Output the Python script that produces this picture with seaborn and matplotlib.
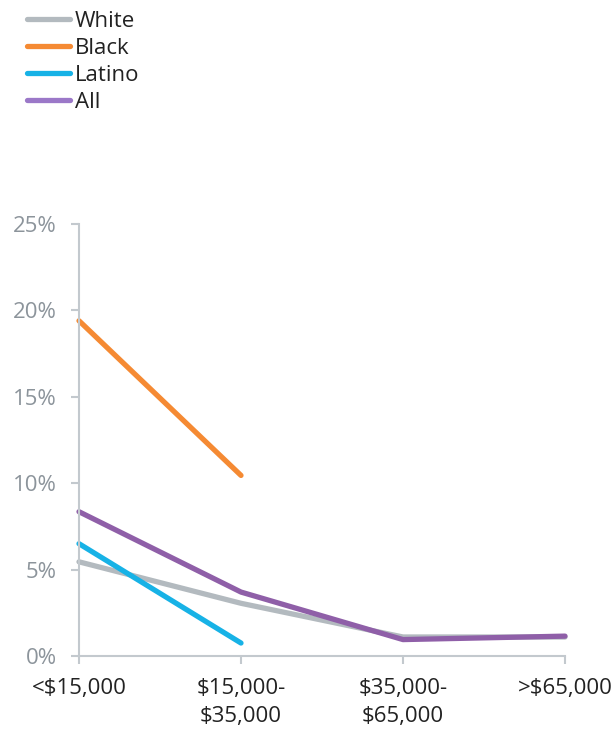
import matplotlib
matplotlib.use("Agg")
import matplotlib.pyplot as plt
import seaborn as sns
import pandas as pd
import numpy as np
from matplotlib.lines import Line2D

categories = ["<$15,000", "$15,000-\n$35,000", "$35,000-\n$65,000", ">$65,000"]
white = [5.45, 3.05, 1.1, 1.1]
black = [19.4, 10.45]
latino = [6.5, 0.75]
all_ = [8.35, 3.7, 0.95, 1.15]
yticks = [0, 5, 10, 15, 20, 25]
ytick_labels = ["0%", "5%", "10%", "15%", "20%", "25%"]

series = {"White": white, "Black": black, "Latino": latino, "All": all_}
colors = {"White": "#b3babf", "Black": "#f58a33", "Latino": "#17b2e6", "All": "#8f5fa8"}
legend_colors = {"White": "#b3babf", "Black": "#f58a33", "Latino": "#17b2e6", "All": "#9b78c8"}

rows = []
for name, vals in series.items():
    for i, v in enumerate(vals):
        rows.append({"series": name, "x": i, "value": v})
df = pd.DataFrame(rows)

sns.set_theme(style="white")
plt.rcParams["font.family"] = ["Open Sans", "DejaVu Sans"]

fig = plt.figure(figsize=(6.15, 7.31), dpi=100)
ax = fig.add_axes([79/615, 1-656/731, (565-79)/615, (656-224)/731])

order = ["White", "Black", "Latino", "All"]
sns.lineplot(data=df, x="x", y="value", hue="series", hue_order=order,
             palette=colors, linewidth=3.8, ax=ax, legend=False,
             solid_capstyle="round")

ax.set_xlim(0, 3)
ax.set_ylim(0, 25)
ax.set_xticks(range(len(categories)))
ax.set_xticklabels(categories, fontsize=16, color="#222222", linespacing=1.4)
ax.set_yticks(yticks)
ax.set_yticklabels(ytick_labels, fontsize=16, color="#8c949b")
ax.set_xlabel("")
ax.set_ylabel("")

axis_color = "#c3c9ce"
for s in ["top", "right"]:
    ax.spines[s].set_visible(False)
for s in ["left", "bottom"]:
    ax.spines[s].set_color(axis_color)
    ax.spines[s].set_linewidth(1.5)
ax.tick_params(axis="both", which="both", length=6, width=1.5, color=axis_color,
               direction="out", bottom=True, left=True)
ax.tick_params(axis="x", pad=10)
ax.tick_params(axis="y", pad=10)
for line in ax.lines:
    line.set_clip_on(False)

handles = [Line2D([0], [0], color=legend_colors[n], lw=3.8, solid_capstyle="round") for n in order]
fig.legend(handles, order, loc="upper left", bbox_to_anchor=(0.011, 1.012),
           frameon=False, fontsize=16, handlelength=1.95, handletextpad=0.2,
           labelspacing=0.26, labelcolor="#222222")

fig.savefig("out.png", dpi=100)
